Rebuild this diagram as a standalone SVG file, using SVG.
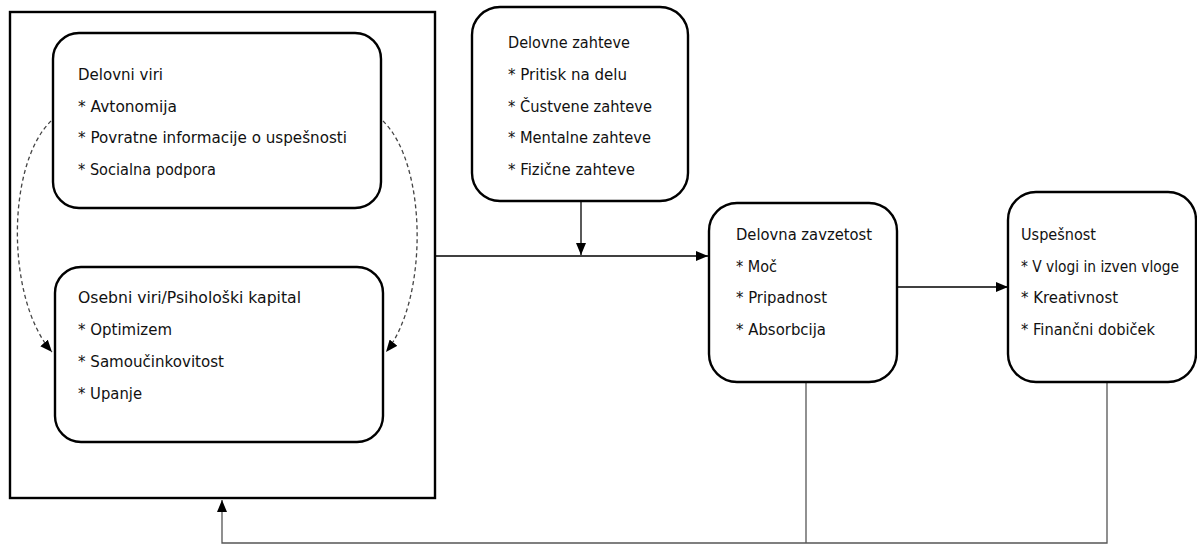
<svg xmlns="http://www.w3.org/2000/svg" width="1197" height="545" viewBox="0 0 1197 545">
<defs>
<style>
.box{fill:#fff;stroke:#000;stroke-width:2.4}
.outer{fill:none;stroke:#000;stroke-width:2.4}
.t{font-family:"DejaVu Sans",sans-serif;font-size:15.5px;fill:#111}
.c{fill:none;stroke:#000;stroke-width:1.3}
.fb{fill:none;stroke:#555;stroke-width:1.3}
.d{fill:none;stroke:#444;stroke-width:1.3;stroke-dasharray:4 3}
</style>
<marker id="ah" viewBox="0 0 12 10" refX="12" refY="5" markerWidth="12" markerHeight="10" markerUnits="userSpaceOnUse" orient="auto">
<path d="M0,0 L12,5 L0,10 z" fill="#000"/>
</marker>
</defs>
<rect width="1197" height="545" fill="#fff"/>
<g id="connectors">
<path class="d" d="M51,121 C6,165 6,300 52,352" marker-end="url(#ah)"/>
<path class="d" d="M383,121 C428,165 428,300 386,352" marker-end="url(#ah)"/>
<path class="c" d="M435,256 L708,256" marker-end="url(#ah)"/>
<path class="c" d="M581,201 L581,255" marker-end="url(#ah)"/>
<path class="c" d="M897,287 L1008,287" marker-end="url(#ah)"/>
<path class="fb" d="M806,382 L806,543"/>
<path class="fb" d="M1107,382 L1107,543 L222,543 L222,500" marker-end="url(#ah)"/>
</g>
<g id="resources-group">
<rect class="outer" x="10" y="12" width="425" height="486"/>
</g>
<g id="delovni-viri">
<rect class="box" x="53" y="33" width="328" height="175" rx="26"/>
<text class="t" x="78" y="80" textLength="85" lengthAdjust="spacingAndGlyphs">Delovni viri</text>
<text class="t" x="78" y="112" textLength="99" lengthAdjust="spacingAndGlyphs">* Avtonomija</text>
<text class="t" x="78" y="143" textLength="269" lengthAdjust="spacingAndGlyphs">* Povratne informacije o uspešnosti</text>
<text class="t" x="78" y="175" textLength="138" lengthAdjust="spacingAndGlyphs">* Socialna podpora</text>
</g>
<g id="osebni-viri">
<rect class="box" x="55" y="267" width="328" height="175" rx="26"/>
<text class="t" x="78" y="303" textLength="223" lengthAdjust="spacingAndGlyphs">Osebni viri/Psihološki kapital</text>
<text class="t" x="78" y="335" textLength="94" lengthAdjust="spacingAndGlyphs">* Optimizem</text>
<text class="t" x="78" y="367" textLength="146" lengthAdjust="spacingAndGlyphs">* Samoučinkovitost</text>
<text class="t" x="78" y="399" textLength="64" lengthAdjust="spacingAndGlyphs">* Upanje</text>
</g>
<g id="delovne-zahteve">
<rect class="box" x="472" y="7" width="216" height="194" rx="28"/>
<text class="t" x="508" y="48" textLength="122" lengthAdjust="spacingAndGlyphs">Delovne zahteve</text>
<text class="t" x="508" y="80" textLength="119" lengthAdjust="spacingAndGlyphs">* Pritisk na delu</text>
<text class="t" x="508" y="112" textLength="144" lengthAdjust="spacingAndGlyphs">* Čustvene zahteve</text>
<text class="t" x="508" y="143" textLength="143" lengthAdjust="spacingAndGlyphs">* Mentalne zahteve</text>
<text class="t" x="508" y="175" textLength="127" lengthAdjust="spacingAndGlyphs">* Fizične zahteve</text>
</g>
<g id="delovna-zavzetost">
<rect class="box" x="709" y="203" width="188" height="179" rx="28"/>
<text class="t" x="736" y="240" textLength="136" lengthAdjust="spacingAndGlyphs">Delovna zavzetost</text>
<text class="t" x="736" y="272" textLength="41" lengthAdjust="spacingAndGlyphs">* Moč</text>
<text class="t" x="736" y="303" textLength="91" lengthAdjust="spacingAndGlyphs">* Pripadnost</text>
<text class="t" x="736" y="335" textLength="90" lengthAdjust="spacingAndGlyphs">* Absorbcija</text>
</g>
<g id="uspesnost">
<rect class="box" x="1008" y="192" width="188" height="190" rx="28"/>
<text class="t" x="1021" y="240" textLength="75" lengthAdjust="spacingAndGlyphs">Uspešnost</text>
<text class="t" x="1021" y="272" style="font-size:15px" textLength="158" lengthAdjust="spacingAndGlyphs">* V vlogi in izven vloge</text>
<text class="t" x="1021" y="303" textLength="97" lengthAdjust="spacingAndGlyphs">* Kreativnost</text>
<text class="t" x="1021" y="335" textLength="134" lengthAdjust="spacingAndGlyphs">* Finančni dobiček</text>
</g>
</svg>
